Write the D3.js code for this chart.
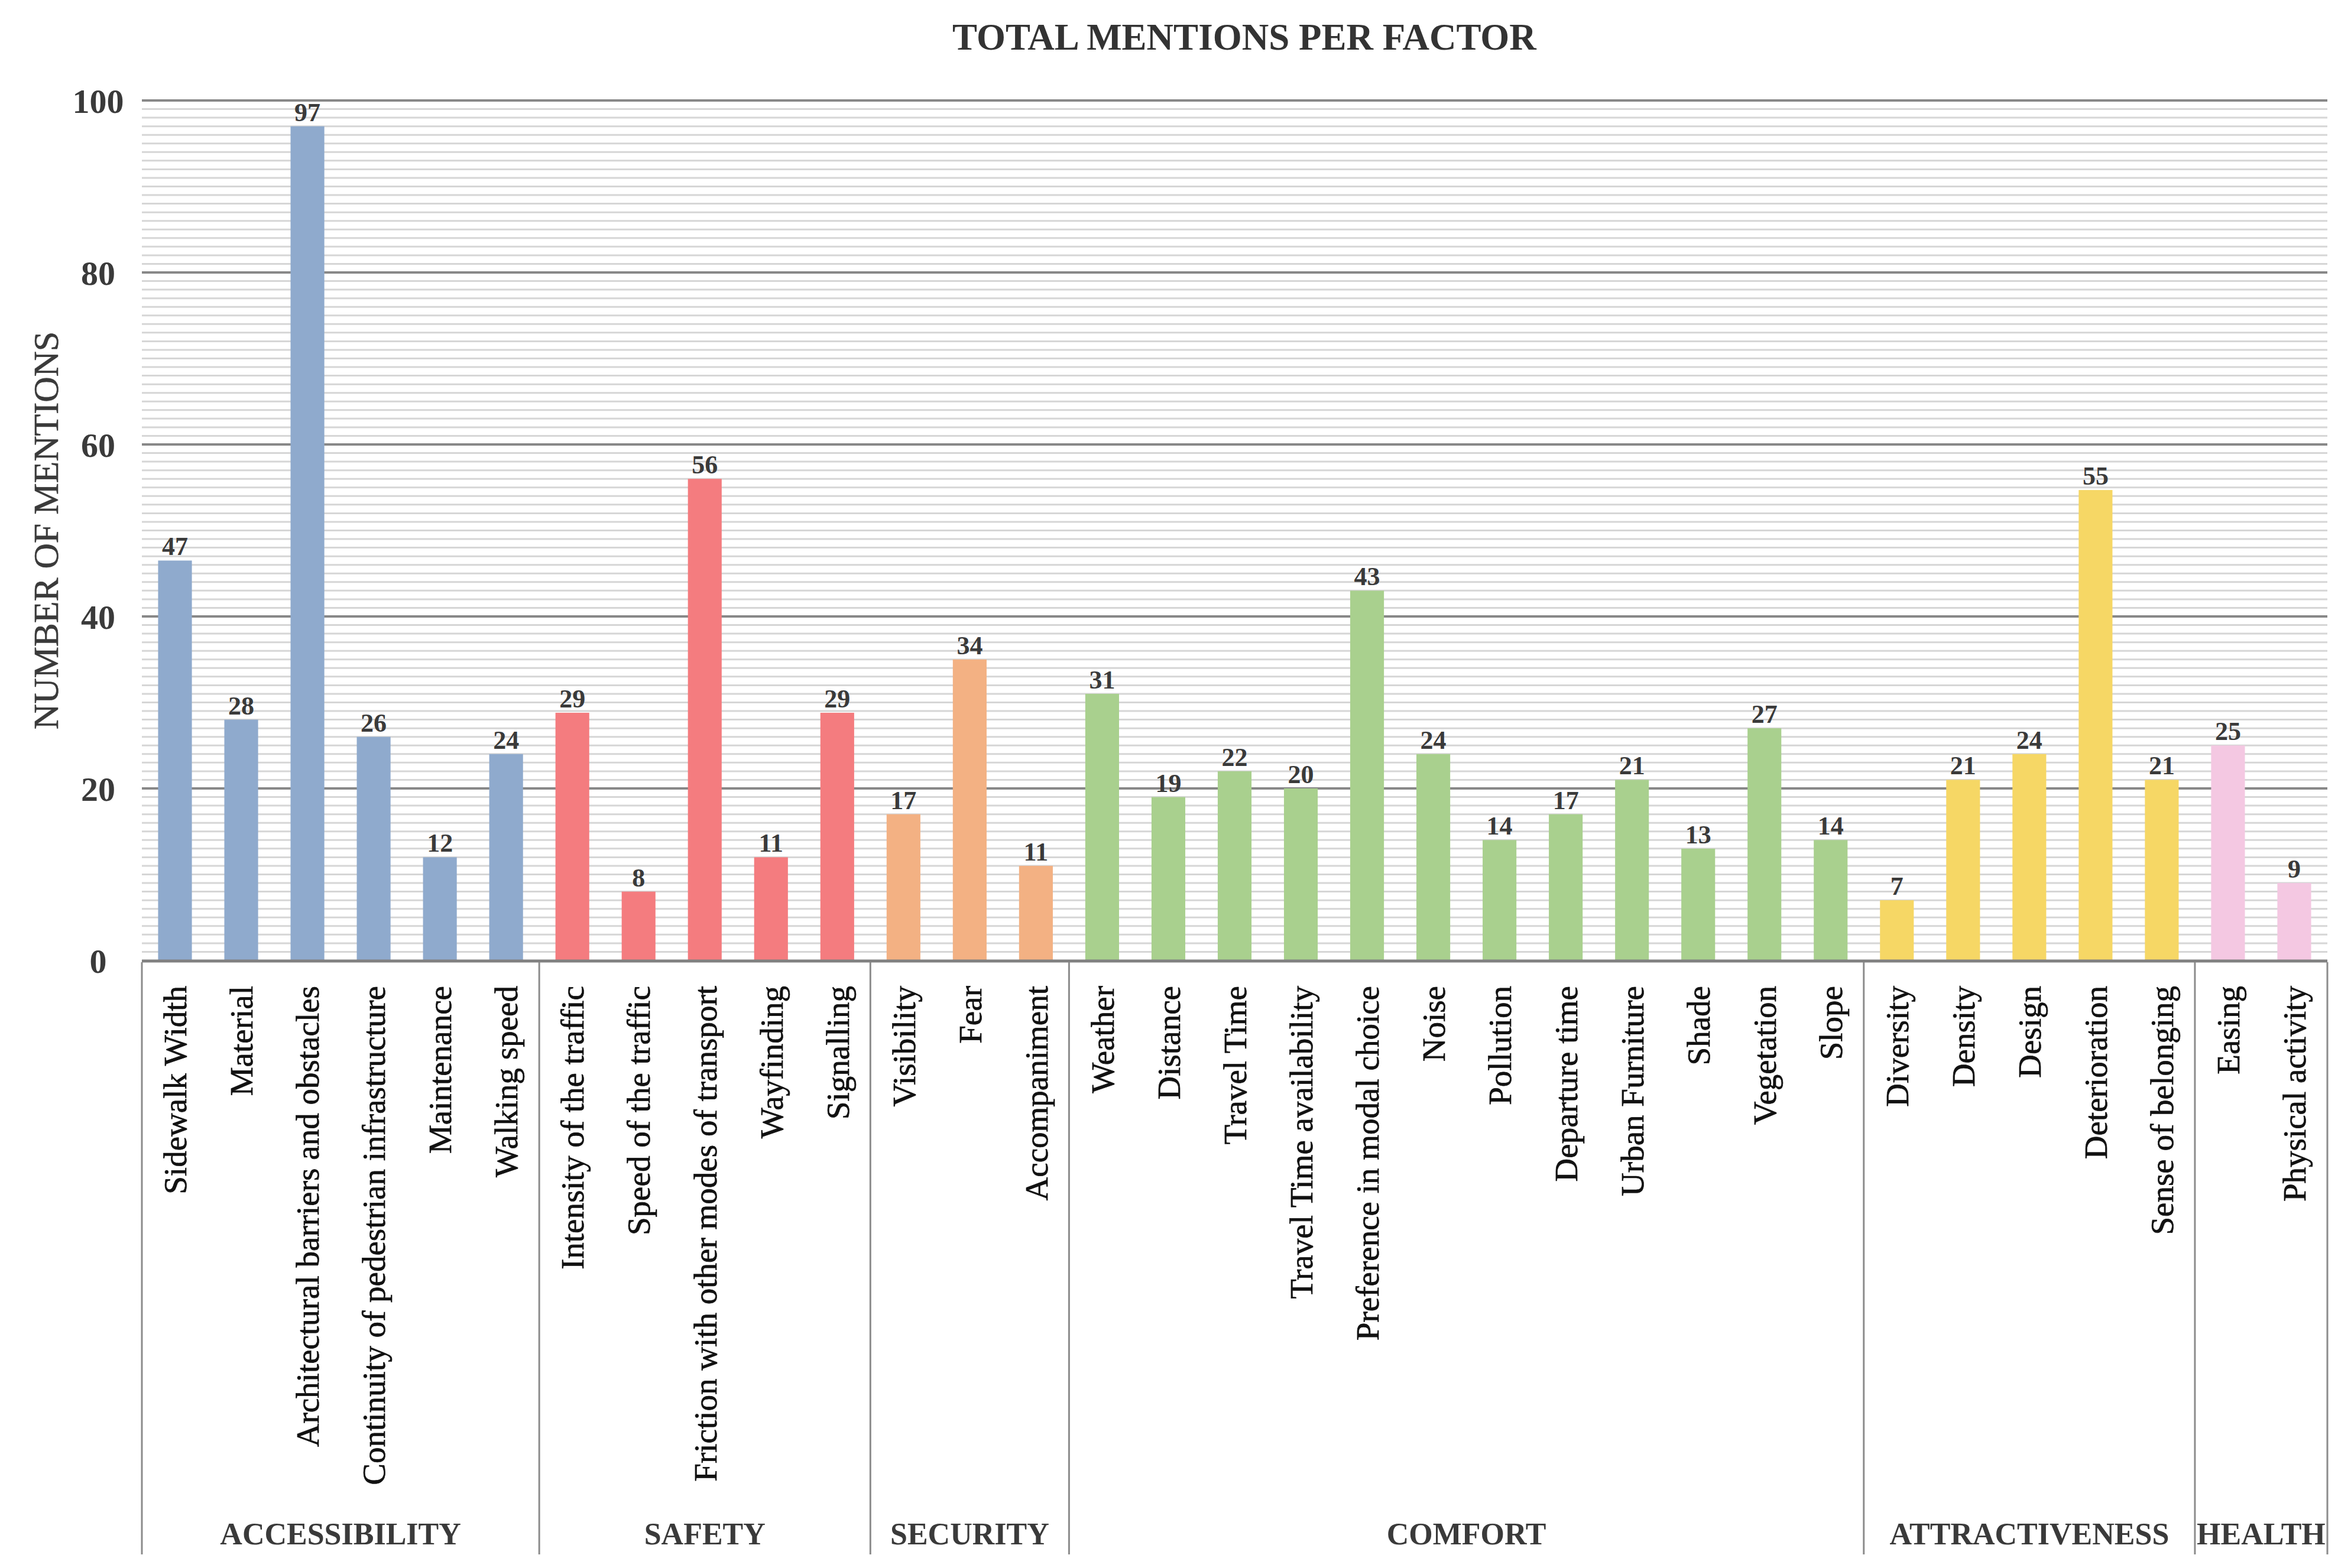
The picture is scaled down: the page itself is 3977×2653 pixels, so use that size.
<!DOCTYPE html>
<html>
<head>
<meta charset="utf-8">
<script src="https://cdn.jsdelivr.net/npm/d3@7"></script>
<style>
  html, body { margin: 0; padding: 0; background: #ffffff; }
  svg text { font-family: "Liberation Serif", "DejaVu Serif", serif; }
</style>
</head>
<body>
<script>
// ---------- DATA ----------
const groupNames = ["ACCESSIBILITY", "SAFETY", "SECURITY", "COMFORT", "ATTRACTIVENESS", "HEALTH"];
const groupSizes = [6, 5, 3, 12, 5, 2];
const groupColors = ["#8FAACD", "#F47C7F", "#F3B183", "#A9D08E", "#F6D765", "#F4C8E2"];

const categories = [
  "Sidewalk Width", "Material", "Architectural barriers and obstacles",
  "Continuity of pedestrian infrastructure", "Maintenance", "Walking speed",
  "Intensity of the traffic", "Speed of the traffic", "Friction with other modes of transport",
  "Wayfinding", "Signalling",
  "Visibility", "Fear", "Accompaniment",
  "Weather", "Distance", "Travel Time", "Travel Time availability", "Preference in modal choice",
  "Noise", "Pollution", "Departure time", "Urban Furniture", "Shade", "Vegetation", "Slope",
  "Diversity", "Density", "Design", "Deterioration", "Sense of belonging",
  "Easing", "Physical activity"
];
// bar heights as drawn
const values = [
  46.5, 28, 97, 26, 12, 24,
  28.8, 8, 56, 12, 28.8,
  17, 35, 11,
  31, 19, 22, 20, 43, 24, 14, 17, 21, 13, 27, 14,
  7, 21, 24, 54.7, 21,
  25, 9
];
// data labels as printed
const valueLabels = [
  47, 28, 97, 26, 12, 24,
  29, 8, 56, 11, 29,
  17, 34, 11,
  31, 19, 22, 20, 43, 24, 14, 17, 21, 13, 27, 14,
  7, 21, 24, 55, 21,
  25, 9
];
const yTicks = [0, 20, 40, 60, 80, 100];
const chartTitle = "TOTAL MENTIONS PER FACTOR";
const yTitle = "NUMBER OF MENTIONS";

// ---------- LAYOUT ----------
const W = 3977, H = 2653;
const plotL = 240, plotR = 3937, plotT = 170, plotB = 1625;
const textColor = "#3a3a3a";

const groupIndex = [];
groupSizes.forEach((n, gi) => { for (let i = 0; i < n; i++) groupIndex.push(gi); });
const data = categories.map((c, i) => ({ name: c, value: values[i], label: valueLabels[i], group: groupIndex[i] }));

const svg = d3.select("body").append("svg")
  .attr("width", W).attr("height", H)
  .attr("viewBox", `0 0 ${W} ${H}`);

const x = d3.scaleBand().domain(categories).range([plotL, plotR])
  .paddingInner(0.49).paddingOuter(0.245);
const y = d3.scaleLinear().domain([0, 100]).range([plotB, plotT]);

// minor gridlines every 1 unit
const minorVals = d3.range(1, 100).filter(v => v % 20 !== 0);
svg.append("g").selectAll("line").data(minorVals).join("line")
  .attr("x1", plotL).attr("x2", plotR)
  .attr("y1", d => y(d)).attr("y2", d => y(d))
  .attr("stroke", "#d6d6d6").attr("stroke-width", 3);

// major gridlines
svg.append("g").selectAll("line").data(yTicks.filter(v => v > 0)).join("line")
  .attr("x1", plotL).attr("x2", plotR)
  .attr("y1", d => y(d)).attr("y2", d => y(d))
  .attr("stroke", "#888888").attr("stroke-width", 4);

// bars
svg.append("g").selectAll("rect").data(data).join("rect")
  .attr("x", d => x(d.name))
  .attr("width", x.bandwidth())
  .attr("y", d => y(d.value))
  .attr("height", d => y(0) - y(d.value))
  .attr("fill", d => groupColors[d.group]);

// data labels
svg.append("g").selectAll("text").data(data).join("text")
  .attr("x", d => x(d.name) + x.bandwidth() / 2)
  .attr("y", d => y(d.value) - 9)
  .attr("text-anchor", "middle")
  .attr("font-size", 44).attr("font-weight", "bold")
  .attr("fill", textColor)
  .text(d => d.label);

// y axis tick labels
const yAxis = d3.axisLeft(y).tickValues(yTicks).tickSize(0).tickPadding(0);
const yg = svg.append("g").attr("transform", `translate(166,0)`).call(yAxis);
yg.select(".domain").remove();
yg.selectAll("text")
  .attr("x", 0).attr("dy", "0.35em")
  .attr("text-anchor", "middle")
  .attr("font-size", 58).attr("font-weight", "bold")
  .attr("font-family", "Liberation Serif, DejaVu Serif, serif")
  .attr("fill", textColor);

// x axis baseline
svg.append("line")
  .attr("x1", plotL).attr("x2", plotR)
  .attr("y1", y(0) + 1).attr("y2", y(0) + 1)
  .attr("stroke", "#808080").attr("stroke-width", 5);

// group separators
const sepBottom = 2630;
let cum = 0;
const groupBounds = groupSizes.map(n => { const s = cum; cum += n; return [s, cum]; });
const stepW = x.step();
const boundaryX = i => plotL + i * stepW;
const seps = [0].concat(groupBounds.map(b => b[1]));
svg.append("g").selectAll("line").data(seps).join("line")
  .attr("x1", d => boundaryX(d)).attr("x2", d => boundaryX(d))
  .attr("y1", y(0) + 3).attr("y2", sepBottom)
  .attr("stroke", "#8c8c8c").attr("stroke-width", 3);

// category labels (rotated)
svg.append("g").selectAll("text").data(data).join("text")
  .attr("transform", d => `translate(${x(d.name) + x.bandwidth() / 2},1668) rotate(-90)`)
  .attr("text-anchor", "end")
  .attr("dy", "0.35em")
  .attr("font-size", 55)
  .attr("fill", "#111111")
  .attr("stroke", "#111111").attr("stroke-width", 0.7)
  .text(d => d.name);

// group labels
svg.append("g").selectAll("text").data(groupNames).join("text")
  .attr("x", (d, i) => (boundaryX(groupBounds[i][0]) + boundaryX(groupBounds[i][1])) / 2)
  .attr("y", 2613)
  .attr("text-anchor", "middle")
  .attr("font-size", 52).attr("font-weight", "bold")
  .attr("fill", textColor)
  .text(d => d);

// title
svg.append("text")
  .attr("x", 2105).attr("y", 84)
  .attr("text-anchor", "middle")
  .attr("font-size", 63).attr("font-weight", "bold")
  .attr("fill", "#333333")
  .text(chartTitle);

// y axis title
svg.append("text")
  .attr("transform", `translate(98,${(plotT + plotB) / 2}) rotate(-90)`)
  .attr("text-anchor", "middle")
  .attr("font-size", 60)
  .attr("fill", textColor)
  .attr("stroke", textColor).attr("stroke-width", 0.6)
  .text(yTitle);
</script>
</body>
</html>
